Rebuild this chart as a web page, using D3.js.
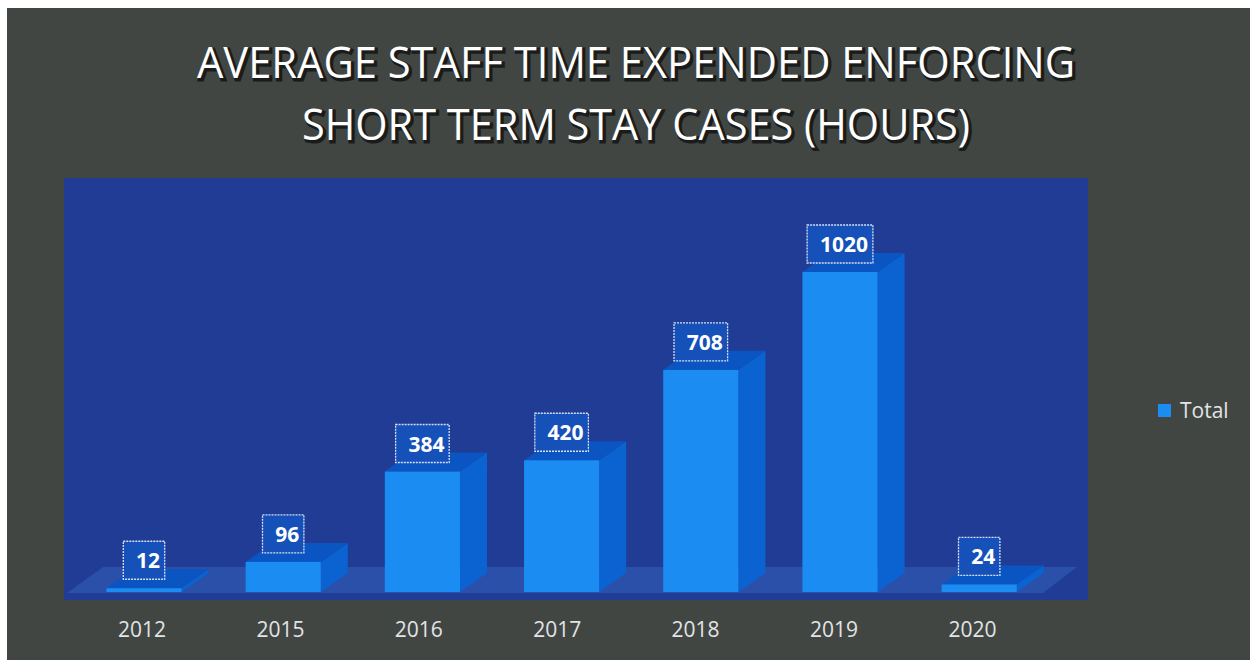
<!DOCTYPE html>
<html>
<head>
<meta charset="utf-8">
<script src="https://cdn.jsdelivr.net/npm/d3@7"></script>
<style>
  html, body { margin: 0; padding: 0; background: #ffffff; }
  svg { display: block; }
</style>
</head>
<body>
<svg id="chart" width="1259" height="667"></svg>
<script>
const categories = ["2012", "2015", "2016", "2017", "2018", "2019", "2020"];
const values = [12, 96, 384, 420, 708, 1020, 24];
const seriesName = "Total";
const titleLines = ["AVERAGE STAFF TIME EXPENDED ENFORCING", "SHORT TERM STAY CASES (HOURS)"];

const svg = d3.select("#chart");

// outer chart background
svg.append("rect").attr("x", 7).attr("y", 8).attr("width", 1243).attr("height", 652)
  .attr("fill", "#414643");

// back wall
const wall = { x0: 64, x1: 1088, y0: 178, y1: 600 };
svg.append("rect").attr("x", wall.x0).attr("y", wall.y0)
  .attr("width", wall.x1 - wall.x0).attr("height", wall.y1 - wall.y0)
  .attr("fill", "#203c94");

// floor parallelogram
svg.append("path")
  .attr("d", "M67,593 L103,567 L1077,567 L1043,593 Z")
  .attr("fill", "#2b52ac").attr("opacity", 0.9);

const x = d3.scaleBand().domain(categories).range([74.4, 1048.8])
  .paddingInner(0.46).paddingOuter(0.23);
const y = d3.scaleLinear().domain([0, 1200]).range([592, 592 - 376.5]);

const dx = 27, dy = -19;
const data = categories.map((c, i) => ({ c, v: values[i] }));

const bars = svg.append("g");
data.forEach(d => {
  const xl = x(d.c), xr = xl + x.bandwidth();
  const yt = y(d.v), yb = y(0);
  bars.append("path")
    .attr("d", `M${xr},${yb} L${xr + dx},${yb + dy} L${xr + dx},${yt + dy} L${xr},${yt} Z`)
    .attr("fill", "#0b63d2");
  bars.append("path")
    .attr("d", `M${xl},${yt} L${xl + dx},${yt + dy} L${xr + dx},${yt + dy} L${xr},${yt} Z`)
    .attr("fill", "#0a55c2");
  bars.append("rect").attr("x", xl).attr("y", yt)
    .attr("width", x.bandwidth()).attr("height", yb - yt)
    .attr("fill", "#1a8cf2");
});

// data labels
const font = "'Open Sans', 'Noto Sans', sans-serif";
const lab = svg.append("g");
data.forEach(d => {
  const cx = x(d.c) + x.bandwidth() / 2;
  const txt = String(d.v);
  const bw = 17 + 12.2 * txt.length;
  const bh = 38;
  const by = y(d.v) - 9 - bh;
  lab.append("rect").attr("x", cx - bw / 2).attr("y", by)
    .attr("width", bw).attr("height", bh)
    .attr("fill", "#1551b8")
    .attr("stroke", "#d6dff5").attr("stroke-width", 1.3)
    .attr("stroke-dasharray", "2,1");
  lab.append("text").attr("x", cx + 4).attr("y", by + bh / 2 + 8)
    .attr("text-anchor", "middle")
    .attr("font-family", font).attr("font-weight", "bold").attr("font-size", 21)
    .attr("fill", "#ffffff").text(txt);
});

// x axis labels
const xa = svg.append("g");
data.forEach((d, i) => {
  const cx = x(d.c) + x.bandwidth() / 2 - 2 - i * 0.8;
  xa.append("text").attr("x", cx).attr("y", 637)
    .attr("text-anchor", "middle")
    .attr("font-family", font).attr("font-size", 21)
    .attr("fill", "#e2e4e6").text(d.c);
});

// title
const tg = svg.append("g");
const tLines = [{ t: titleLines[0], y: 78, len: 878 }, { t: titleLines[1], y: 140, len: 668 }];
tLines.forEach(l => {
  tg.append("text").attr("x", 636 + 2).attr("y", l.y + 2)
    .attr("text-anchor", "middle")
    .attr("font-family", font).attr("font-size", 44)
    .attr("textLength", l.len).attr("lengthAdjust", "spacingAndGlyphs")
    .attr("fill", "#1a1c1c").attr("stroke", "#1a1c1c").attr("stroke-width", 3)
    .text(l.t);
  tg.append("text").attr("x", 636).attr("y", l.y)
    .attr("text-anchor", "middle")
    .attr("font-family", font).attr("font-size", 44)
    .attr("textLength", l.len).attr("lengthAdjust", "spacingAndGlyphs")
    .attr("fill", "#ffffff").text(l.t);
});

// legend
const lg = svg.append("g");
lg.append("rect").attr("x", 1158).attr("y", 404).attr("width", 13).attr("height", 13)
  .attr("fill", "#1a8cf2");
lg.append("text").attr("x", 1180).attr("y", 418)
  .attr("font-family", font).attr("font-size", 21)
  .attr("fill", "#e2e4e6").text(seriesName);
</script>
</body>
</html>
